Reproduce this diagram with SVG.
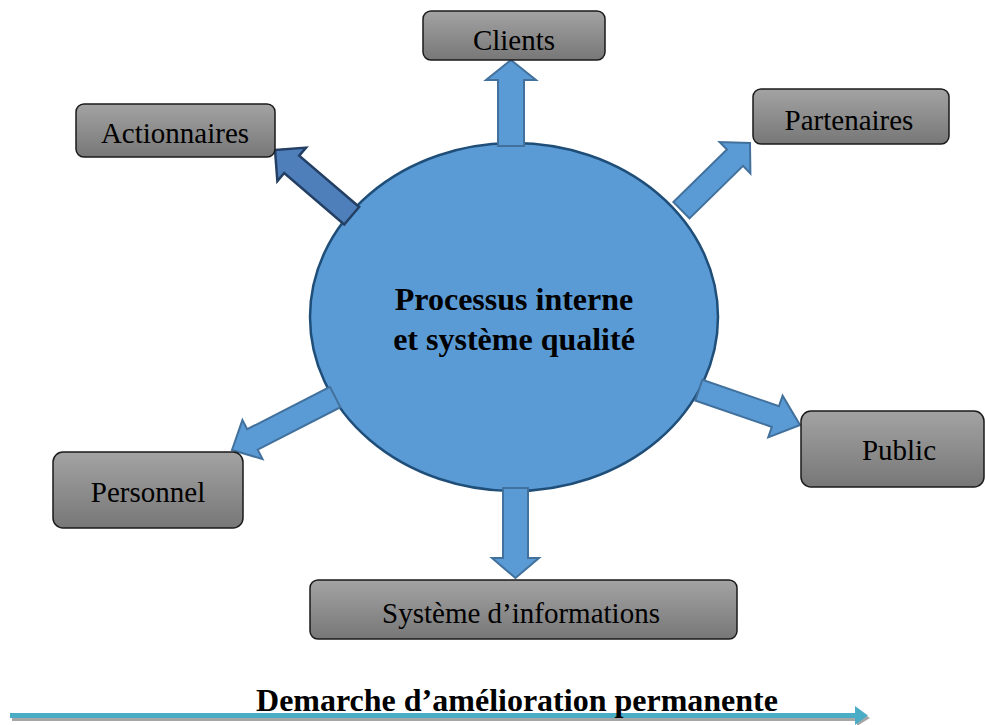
<svg xmlns="http://www.w3.org/2000/svg" width="985" height="725" viewBox="0 0 985 725">
<style>
.box{fill:url(#gbox);stroke:#1a1a1a;stroke-width:1.5}
.arr{fill:#5b9bd5;stroke:#41719c;stroke-width:2;stroke-linejoin:miter}
.arrd{fill:#4f7fbb;stroke:#233f63;stroke-width:2.5;stroke-linejoin:miter}
</style>
<defs>
<linearGradient id="gbox" x1="0" y1="0" x2="0" y2="1">
<stop offset="0" stop-color="#a3a3a3"/>
<stop offset="1" stop-color="#777777"/>
</linearGradient>
</defs>
<rect width="985" height="725" fill="#ffffff"/>

<g id="center">
<ellipse cx="514" cy="317" rx="204" ry="174" fill="#5b9bd5" stroke="#1f4e79" stroke-width="2.5"/>
<text x="514" y="310" font-family="'Liberation Serif','Times New Roman',serif" font-size="32" font-weight="bold" text-anchor="middle" fill="#000">Processus interne</text>
<text x="514" y="350" font-family="'Liberation Serif','Times New Roman',serif" font-size="32" font-weight="bold" text-anchor="middle" fill="#000">et système qualité</text>
</g>

<g id="connectors">
<polygon class="arr" transform="translate(511,60) rotate(0)" points="0,0 25,20 13,20 13,86 -13,86 -13,20 -25,20"/>
<polygon class="arrd" transform="translate(275,150) rotate(-49.4)" points="0,0 22,22 11.5,22 11.5,101 -11.5,101 -11.5,22 -22,22"/>
<polygon class="arr" transform="translate(750,143) rotate(45.6)" points="0,0 22,21 11.5,21 11.5,96 -11.5,96 -11.5,21 -22,21"/>
<polygon class="arr" transform="translate(232,450) rotate(-117.2)" points="0,0 22,23 11.5,23 11.5,116 -11.5,116 -11.5,23 -22,23"/>
<polygon class="arr" transform="translate(800,425) rotate(109)" points="0,0 22,26 11,26 11,107 -11,107 -11,26 -22,26"/>
<polygon class="arr" transform="translate(515.5,578) rotate(180)" points="0,0 23.5,20 12.5,20 12.5,90 -12.5,90 -12.5,20 -23.5,20"/>
</g>

<g font-family="'Liberation Serif','Times New Roman',serif" font-size="29" text-anchor="middle" fill="#000">
<g id="clients">
<rect class="box" x="423" y="11" width="182" height="49" rx="8"/>
<text x="514" y="50">Clients</text>
</g>
<g id="actionnaires">
<rect class="box" x="76" y="104" width="199" height="53" rx="8"/>
<text x="175" y="143">Actionnaires</text>
</g>
<g id="partenaires">
<rect class="box" x="753" y="89" width="196" height="55" rx="8"/>
<text x="849" y="130">Partenaires</text>
</g>
<g id="personnel">
<rect class="box" x="53" y="452" width="190" height="76" rx="10"/>
<text x="148" y="502">Personnel</text>
</g>
<g id="public">
<rect class="box" x="801" y="411" width="183" height="76" rx="10"/>
<text x="899" y="460">Public</text>
</g>
<g id="systeme">
<rect class="box" x="310" y="580" width="427" height="59" rx="8"/>
<text x="521" y="623">Système d’informations</text>
</g>
</g>

<g id="demarche">
<rect x="12" y="717" width="848" height="4" fill="#a6a6a6"/>
<polygon points="857,710 870,718 857,726" fill="#a6a6a6"/>
<rect x="10" y="713" width="848" height="5" fill="#4bacc6"/>
<polygon points="855,706 868,715.5 855,725" fill="#4bacc6"/>
<text x="517" y="711" font-family="'Liberation Serif','Times New Roman',serif" font-size="32" font-weight="bold" text-anchor="middle" fill="#000">Demarche d’amélioration permanente</text>
</g>
</svg>
